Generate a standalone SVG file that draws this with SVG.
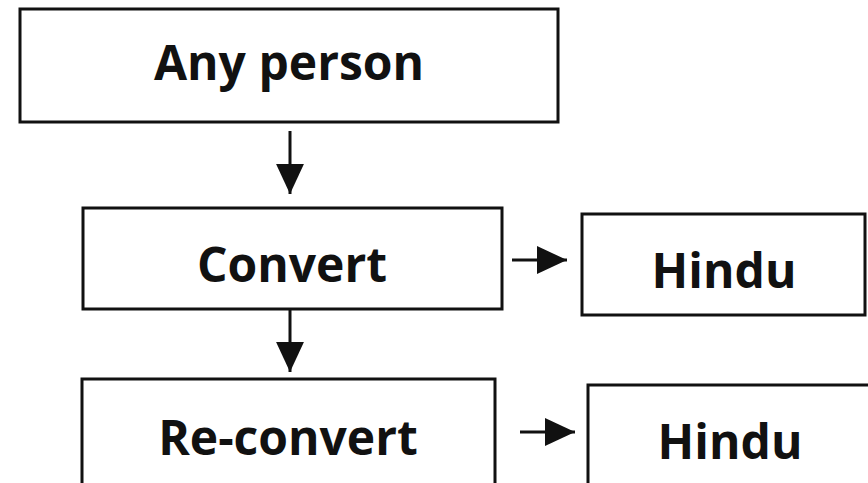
<svg xmlns="http://www.w3.org/2000/svg" width="868" height="483" viewBox="0 0 868 483">
  <style>
    .box { fill: #ffffff; stroke: #111111; stroke-width: 3; }
    .label { font-family: "Open Sans", "Noto Sans", "Liberation Sans", sans-serif; font-weight: 700; font-size: 48px; fill: #111111; text-anchor: middle; }
    .link { stroke: #111111; stroke-width: 3; fill: none; }
  </style>
  <defs>
    <marker id="head" markerUnits="userSpaceOnUse" markerWidth="30" markerHeight="30" viewBox="0 0 28 28" refX="28" refY="14" orient="auto">
      <path d="M0,1 L28,14 L0,27 Z" fill="#111111"/>
    </marker>
  </defs>
  <rect width="868" height="483" fill="#ffffff"/>

  <g id="connectors">
    <line class="link" x1="290" y1="131" x2="290" y2="194" marker-end="url(#head)"/>
    <line class="link" x1="290" y1="310" x2="290" y2="372" marker-end="url(#head)"/>
    <line class="link" x1="512" y1="260" x2="567" y2="260" marker-end="url(#head)"/>
    <line class="link" x1="520" y1="432" x2="575" y2="432" marker-end="url(#head)"/>
  </g>

  <g id="any-person">
    <rect class="box" x="20" y="9" width="538" height="113"/>
    <text class="label" x="289" y="80">Any person</text>
  </g>
  <g id="convert">
    <rect class="box" x="83" y="208" width="419" height="101"/>
    <text class="label" x="292" y="282">Convert</text>
  </g>
  <g id="hindu-1">
    <rect class="box" x="582" y="214" width="283" height="101"/>
    <text class="label" x="724" y="288">Hindu</text>
  </g>
  <g id="re-convert">
    <rect class="box" x="82" y="379" width="413" height="110"/>
    <text class="label" x="288" y="455">Re-convert</text>
  </g>
  <g id="hindu-2">
    <rect class="box" x="588" y="385" width="290" height="110"/>
    <text class="label" x="730" y="459">Hindu</text>
  </g>
</svg>
